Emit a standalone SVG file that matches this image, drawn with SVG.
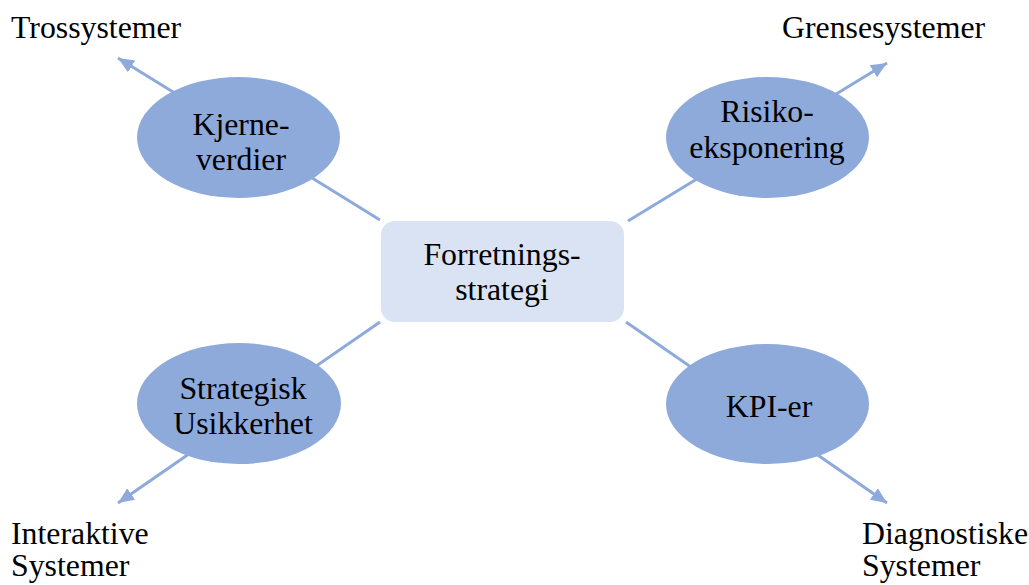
<svg xmlns="http://www.w3.org/2000/svg" width="1029" height="585" viewBox="0 0 1029 585">
<style>
text{font-family:"Liberation Serif","Times New Roman",serif;font-size:31.8px;fill:#000}
.c{text-anchor:middle}
.ln{stroke:#8EAADB;stroke-width:3;fill:none}
.el{fill:#8EAADB}
.bx{fill:#DAE3F3}
</style>
<defs>
<marker id="ah" markerUnits="userSpaceOnUse" markerWidth="18" markerHeight="16" refX="16" refY="8" orient="auto">
<path d="M0,1 L16,8 L0,15 Z" fill="#8EAADB"/>
</marker>
</defs>
<rect width="1029" height="585" fill="#fff"/>
<g id="connectors">
<line class="ln" x1="380" y1="220" x2="118" y2="58" marker-end="url(#ah)"/>
<line class="ln" x1="628" y1="221" x2="887" y2="63" marker-end="url(#ah)"/>
<line class="ln" x1="380" y1="322" x2="118" y2="503" marker-end="url(#ah)"/>
<line class="ln" x1="626" y1="322" x2="887" y2="503" marker-end="url(#ah)"/>
</g>
<g id="center">
<rect class="bx" x="381" y="221" width="243" height="101" rx="14"/>
<text class="c" x="502" y="265">Forretnings-</text>
<text class="c" x="502" y="300">strategi</text>
</g>
<g id="kjerneverdier">
<ellipse class="el" cx="238.5" cy="137.5" rx="101.5" ry="60.5"/>
<text class="c" x="241" y="135">Kjerne-</text>
<text class="c" x="241" y="170">verdier</text>
</g>
<g id="risiko">
<ellipse class="el" cx="767.5" cy="137.5" rx="101.5" ry="60.5"/>
<text class="c" x="767" y="122">Risiko-</text>
<text class="c" x="767" y="158">eksponering</text>
</g>
<g id="strategisk">
<ellipse class="el" cx="239" cy="403.5" rx="102" ry="60.5"/>
<text class="c" x="243" y="399">Strategisk</text>
<text class="c" x="243" y="434">Usikkerhet</text>
</g>
<g id="kpi">
<ellipse class="el" cx="767.5" cy="404" rx="101.5" ry="60"/>
<text class="c" x="769" y="417">KPI-er</text>
</g>
<g id="labels">
<text x="11" y="38">Trossystemer</text>
<text x="782" y="38">Grensesystemer</text>
<text x="11" y="544">Interaktive</text>
<text x="11" y="576">Systemer</text>
<text x="862" y="544">Diagnostiske</text>
<text x="862" y="576">Systemer</text>
</g>
</svg>
